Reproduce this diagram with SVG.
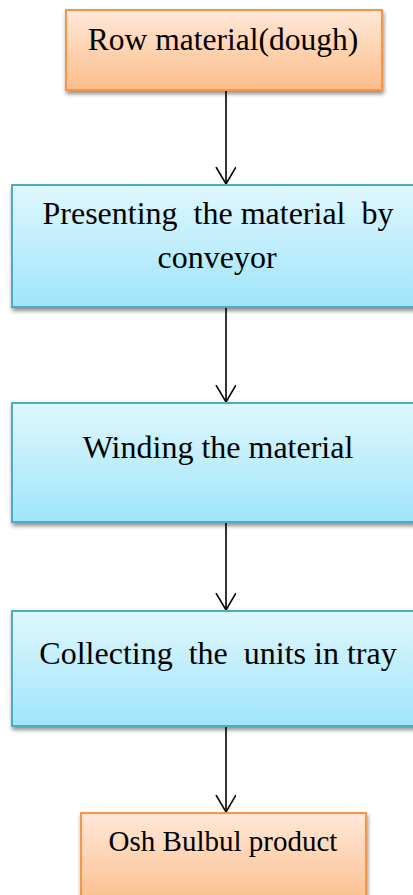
<svg xmlns="http://www.w3.org/2000/svg" width="413" height="895" viewBox="0 0 413 895">
  <defs>
    <linearGradient id="gOrange" x1="0" y1="0" x2="0" y2="1">
      <stop offset="0" stop-color="#FFE8D9"/>
      <stop offset="1" stop-color="#FBBD88"/>
    </linearGradient>
    <linearGradient id="gBlue" x1="0" y1="0" x2="0" y2="1">
      <stop offset="0" stop-color="#E0F7FD"/>
      <stop offset="1" stop-color="#9FE5FA"/>
    </linearGradient>
    <filter id="shadow" x="-10%" y="-10%" width="120%" height="130%">
      <feGaussianBlur in="SourceAlpha" stdDeviation="2"/>
      <feOffset dx="1" dy="3" result="b"/>
      <feComponentTransfer><feFuncA type="linear" slope="0.45"/></feComponentTransfer>
      <feMerge><feMergeNode/><feMergeNode in="SourceGraphic"/></feMerge>
    </filter>
    <marker id="arrow" viewBox="0 0 20 22" refX="17" refY="10" markerWidth="20" markerHeight="22" markerUnits="userSpaceOnUse" orient="auto">
      <path d="M0,0 L17,10 L0,20" fill="none" stroke="#000" stroke-width="1.6"/>
    </marker>
  </defs>
  <style>
    .orange { fill: url(#gOrange); stroke: #F79646; stroke-width: 2; filter: url(#shadow); }
    .blue { fill: url(#gBlue); stroke: #4BACC6; stroke-width: 2; filter: url(#shadow); }
    .lbl { font-family: "Liberation Serif", "Times New Roman", serif; fill: #000; text-anchor: middle; }
    .conn { stroke: #000; stroke-width: 1.6; fill: none; marker-end: url(#arrow); }
  </style>

  <g id="connectors">
    <line class="conn" x1="226" y1="91" x2="226" y2="184"/>
    <line class="conn" x1="226" y1="308" x2="226" y2="402"/>
    <line class="conn" x1="226" y1="523" x2="226" y2="610"/>
    <line class="conn" x1="226" y1="727" x2="226" y2="812"/>
  </g>

  <g id="node-raw">
    <rect class="orange" x="66" y="10" width="316" height="80"/>
    <text class="lbl" x="223" y="50" font-size="31.5">Row material(dough)</text>
  </g>

  <g id="node-presenting">
    <rect class="blue" x="12" y="185" width="412" height="122"/>
    <text class="lbl" x="218" y="224" font-size="32" xml:space="preserve">Presenting  the material  by</text>
    <text class="lbl" x="217" y="268" font-size="32">conveyor</text>
  </g>

  <g id="node-winding">
    <rect class="blue" x="12" y="403" width="412" height="119"/>
    <text class="lbl" x="218" y="458" font-size="32">Winding the material</text>
  </g>

  <g id="node-collecting">
    <rect class="blue" x="12" y="611" width="412" height="115"/>
    <text class="lbl" x="218" y="664" font-size="32" xml:space="preserve">Collecting  the  units in tray</text>
  </g>

  <g id="node-product">
    <rect class="orange" x="81" y="813" width="285" height="95"/>
    <text class="lbl" x="223" y="851" font-size="29">Osh Bulbul product</text>
  </g>
</svg>
